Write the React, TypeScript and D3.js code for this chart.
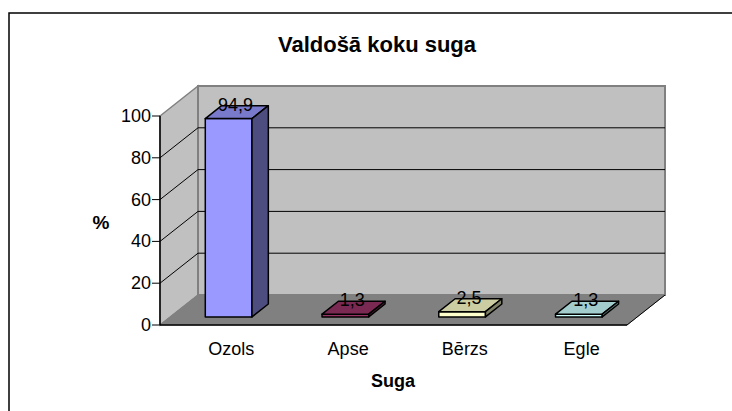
import React from 'react';
import * as d3 from 'd3';

const categories = ['Ozols', 'Apse', 'Bērzs', 'Egle'];
const values = [94.9, 1.3, 2.5, 1.3];
const valueLabels = ['94,9', '1,3', '2,5', '1,3'];
const yTicks = [0, 20, 40, 60, 80, 100];
const barColors = ['#9999ff', '#993366', '#ffffcc', '#ccffff'];

const W = 732;
const H = 411;
const FONT = 'Arial, "Liberation Sans", sans-serif';

// 3D projection: depth goes up-right
const DX = 38;
const DY = 30;
const D0 = 0.27;
const D1 = 0.7;

export default function App() {
  const x = d3.scaleBand<string>()
    .domain(categories)
    .range([160, 627])
    .paddingInner(0.6)
    .paddingOuter(0.3);

  const y = d3.scaleLinear().domain([0, 100]).range([325, 116]);

  const p = (px: number, v: number, d: number): [number, number] => [px + d * DX, y(v) - d * DY];
  const poly = (pts: [number, number][]) => pts.map(q => q.join(',')).join(' ');

  const [x0, x1] = x.range();
  const shade = (c: string, k: number) => {
    const col = d3.rgb(c);
    return d3.rgb(col.r * k, col.g * k, col.b * k).formatHex();
  };

  return (
    <div style={{ position: 'fixed', left: 0, top: 0 }}>
      <svg width={W} height={H} style={{ display: 'block', background: '#fff' }}>
        <rect x={9} y={13} width={W} height={H} fill="#fff" stroke="#000" strokeWidth={1.5} />

        <text x={377} y={52} textAnchor="middle" fontFamily={FONT} fontWeight="bold" fontSize={22}>
          Valdošā koku suga
        </text>

        {/* side wall */}
        <polygon points={poly([p(x0, 0, 0), p(x0, 100, 0), p(x0, 100, 1), p(x0, 0, 1)])}
          fill="#c0c0c0" stroke="#808080" strokeWidth={1.5} />
        {/* back wall */}
        <polygon points={poly([p(x0, 0, 1), p(x0, 100, 1), p(x1, 100, 1), p(x1, 0, 1)])}
          fill="#c0c0c0" stroke="#808080" strokeWidth={2} />
        {/* floor */}
        <polygon points={poly([p(x0, 0, 0), p(x1, 0, 0), p(x1, 0, 1), p(x0, 0, 1)])}
          fill="#808080" stroke="#808080" strokeWidth={1} />

        {/* gridlines */}
        {yTicks.filter(t => t > 0 && t < 100).map(t => (
          <g key={t}>
            <line x1={p(x0, t, 0)[0]} y1={p(x0, t, 0)[1]} x2={p(x0, t, 1)[0]} y2={p(x0, t, 1)[1]}
              stroke="#000" strokeWidth={1} />
            <line x1={p(x0, t, 1)[0]} y1={p(x0, t, 1)[1]} x2={p(x1, t, 1)[0]} y2={p(x1, t, 1)[1]}
              stroke="#000" strokeWidth={1} />
          </g>
        ))}

        {/* floor edges */}
        <line x1={x0} y1={y(0)} x2={x1} y2={y(0)} stroke="#000" strokeWidth={1.5} />
        <line x1={x1} y1={y(0)} x2={p(x1, 0, 1)[0]} y2={p(x1, 0, 1)[1]} stroke="#000" strokeWidth={1} />

        {/* y axis */}
        <line x1={x0} y1={y(0)} x2={x0} y2={y(100)} stroke="#000" strokeWidth={1.5} />
        {yTicks.map(t => (
          <g key={t}>
            <line x1={x0 - 8} x2={x0} y1={y(t)} y2={y(t)} stroke="#000" strokeWidth={1} />
            <text x={x0 - 9} y={y(t) + 6} textAnchor="end" fontFamily={FONT} fontSize={18}>{t}</text>
          </g>
        ))}
        <text x={101} y={229} textAnchor="middle" fontFamily={FONT} fontWeight="bold" fontSize={19}>%</text>

        {/* bars */}
        {categories.map((c, i) => {
          const bx0 = x(c)!;
          const bx1 = bx0 + x.bandwidth();
          const v = values[i];
          const col = barColors[i];
          return (
            <g key={c} stroke="#000" strokeWidth={1.5} strokeLinejoin="round">
              <polygon points={poly([p(bx0, 0, D0), p(bx1, 0, D0), p(bx1, v, D0), p(bx0, v, D0)])} fill={col} />
              <polygon points={poly([p(bx0, v, D0), p(bx1, v, D0), p(bx1, v, D1), p(bx0, v, D1)])} fill={shade(col, 0.8)} />
              <polygon points={poly([p(bx1, 0, D0), p(bx1, 0, D1), p(bx1, v, D1), p(bx1, v, D0)])} fill={shade(col, 0.5)} />
            </g>
          );
        })}

        {/* value labels */}
        {categories.map((c, i) => {
          const [lx] = p(x(c)! + x.bandwidth() / 2, values[i], 0.45);
          const [, ly] = p(0, values[i], D1);
          return (
            <text key={c} x={lx} y={ly + 5} textAnchor="middle" fontFamily={FONT} fontSize={18}>
              {valueLabels[i]}
            </text>
          );
        })}

        {/* category labels */}
        {categories.map(c => (
          <text key={c} x={x(c)! + x.bandwidth() / 2 + 13} y={355} textAnchor="middle" fontFamily={FONT} fontSize={18}>
            {c}
          </text>
        ))}
        <text x={393} y={387} textAnchor="middle" fontFamily={FONT} fontWeight="bold" fontSize={18}>Suga</text>
      </svg>
    </div>
  );
}
